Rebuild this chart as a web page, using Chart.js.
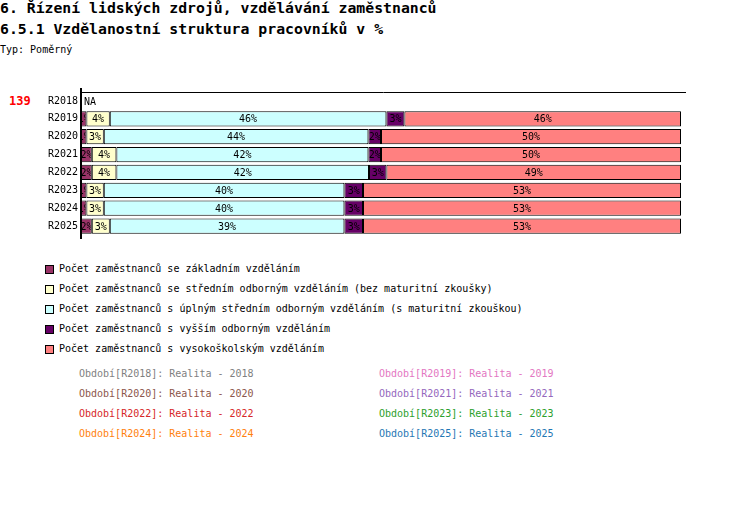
<!DOCTYPE html>
<html>
<head>
<meta charset="utf-8">
<script src="https://cdn.jsdelivr.net/npm/chart.js@4"></script>
<style>
  body { margin: 0; background: #fff; font-family: "DejaVu Sans Mono", monospace; color: #000; }
  #page { position: relative; width: 750px; height: 532px; overflow: hidden; }
  .t { position: absolute; white-space: nowrap; line-height: 1; }
  .h { font-weight: bold; font-size: 14.8px; left: 0; }
  .sm { font-size: 10px; }
  #chartBox { position: absolute; left: 0; top: 80px; width: 700px; height: 170px; }
  .sq { position: absolute; width: 7px; height: 7px; border: 1px solid #000; }
</style>
</head>
<body>
<div id="page">
  <div class="t h" style="top:1px">6. Řízení lidských zdrojů, vzdělávání zaměstnanců</div>
  <div class="t h" style="top:22px">6.5.1 Vzdělanostní struktura pracovníků v %</div>
  <div class="t sm" style="left:0;top:45px">Typ: Poměrný</div>
  <div class="t" style="left:9px;top:95px;font-size:12px;font-weight:bold;color:#ff0000">139</div>
  <div id="chartBox"><canvas id="chart"></canvas></div>
  <div id="legend"></div>
  <div id="footer"></div>
</div>
<script>
const periods = ['R2018', 'R2019', 'R2020', 'R2021', 'R2022', 'R2023', 'R2024', 'R2025'];

const seriesNames = [
  'Počet zaměstnanců se základním vzděláním',
  'Počet zaměstnanců se středním odborným vzděláním (bez maturitní zkoušky)',
  'Počet zaměstnanců s úplným středním odborným vzděláním (s maturitní zkouškou)',
  'Počet zaměstnanců s vyšším odborným vzděláním',
  'Počet zaměstnanců s vysokoškolským vzděláním'
];
const seriesColors = ['#993366', '#ffffcc', '#ccffff', '#660066', '#ff8080'];

// share in % per period (R2018 has no data)
const basic      = [null, 0.9, 0.9, 1.8, 1.8, 0.9, 0.9, 1.8];
const vocational = [null, 3.9, 2.9, 4.1, 4.1, 2.9, 2.9, 3.0];
const secondary  = [null, 46.1, 44.1, 42.0, 42.1, 40.1, 40.1, 39.1];
const higherVoc  = [null, 3.0, 2.1, 2.1, 2.9, 3.1, 3.1, 3.1];
const university = [null, 46.1, 50.0, 50.0, 49.1, 53.0, 53.0, 53.0];
const seriesValues = [basic, vocational, secondary, higherVoc, university];

const footerLabels = [
  'Období[R2018]: Realita - 2018', 'Období[R2019]: Realita - 2019',
  'Období[R2020]: Realita - 2020', 'Období[R2021]: Realita - 2021',
  'Období[R2022]: Realita - 2022', 'Období[R2023]: Realita - 2023',
  'Období[R2024]: Realita - 2024', 'Období[R2025]: Realita - 2025'
];
const footerColors = ['#7f7f7f', '#e377c2', '#8c564b', '#9467bd', '#d62728', '#2ca02c', '#ff7f0e', '#1f77b4'];

const FONT = '"DejaVu Sans Mono", monospace';

// legend
const legend = document.getElementById('legend');
seriesNames.forEach((name, i) => {
  const y = 264 + i * 20;
  legend.insertAdjacentHTML('beforeend',
    `<div class="sq" style="left:45px;top:${y + 1}px;background:${seriesColors[i]}"></div>` +
    `<div class="t sm" style="left:59px;top:${y}px">${name}</div>`);
});

// period footer
const footer = document.getElementById('footer');
footerLabels.forEach((txt, i) => {
  const x = i % 2 === 0 ? 79 : 379;
  const y = 369 + Math.floor(i / 2) * 20;
  footer.insertAdjacentHTML('beforeend',
    `<div class="t sm" style="left:${x}px;top:${y}px;color:${footerColors[i]}">${txt}</div>`);
});

const segmentLabels = {
  id: 'segmentLabels',
  afterDatasetsDraw(chart) {
    const ctx = chart.ctx;
    ctx.save();
    ctx.font = '10px ' + FONT;
    ctx.fillStyle = '#000';
    ctx.textBaseline = 'middle';
    chart.data.datasets.forEach((ds, di) => {
      chart.getDatasetMeta(di).data.forEach((bar, i) => {
        const v = ds.data[i];
        if (v == null) return;
        const left = Math.min(bar.base, bar.x), right = Math.max(bar.base, bar.x);
        const top = bar.y - bar.height / 2;
        ctx.save();
        ctx.beginPath();
        ctx.rect(left + 1, top, right - left - 2, bar.height);
        ctx.clip();
        ctx.textAlign = 'center';
        ctx.fillText(Math.round(v) + '%', (left + right) / 2, bar.y + 1);
        ctx.restore();
      });
    });
    // NA for periods without data
    const yScale = chart.scales.y;
    periods.forEach((p, i) => {
      if (seriesValues.every(s => s[i] == null)) {
        ctx.textAlign = 'left';
        ctx.fillText('NA', chart.chartArea.left + 3, yScale.getPixelForValue(i) + 1);
      }
    });
    // frame lines
    const a = chart.chartArea;
    ctx.strokeStyle = '#000';
    ctx.lineWidth = 1;
    ctx.beginPath();
    ctx.moveTo(a.left, a.top + 0.5);
    ctx.lineTo(a.right + 5, a.top + 0.5);
    ctx.stroke();
    ctx.lineWidth = 2;
    ctx.beginPath();
    ctx.moveTo(a.left, a.top - 4);
    ctx.lineTo(a.left, a.bottom + 4);
    ctx.stroke();
    ctx.restore();
  }
};

new Chart(document.getElementById('chart'), {
  type: 'bar',
  data: {
    labels: periods,
    datasets: seriesValues.map((vals, i) => ({
      label: seriesNames[i],
      data: vals,
      backgroundColor: seriesColors[i],
      borderColor: '#000',
      borderWidth: 1,
      borderSkipped: false,
      barPercentage: 0.86,
      categoryPercentage: 1
    }))
  },
  options: {
    indexAxis: 'y',
    responsive: true,
    maintainAspectRatio: false,
    animation: false,
    layout: { padding: { top: 12, right: 19, bottom: 15, left: 0 } },
    plugins: { legend: { display: false }, tooltip: { enabled: false } },
    scales: {
      x: { stacked: true, min: 0, max: 100, display: false },
      y: {
        stacked: true,
        grid: { display: false, drawTicks: false },
        border: { display: false },
        ticks: { color: '#000', font: { family: FONT, size: 10 }, padding: 3 },
        afterFit(scale) { scale.width = 81; }
      }
    }
  },
  plugins: [segmentLabels]
});
</script>
</body>
</html>
